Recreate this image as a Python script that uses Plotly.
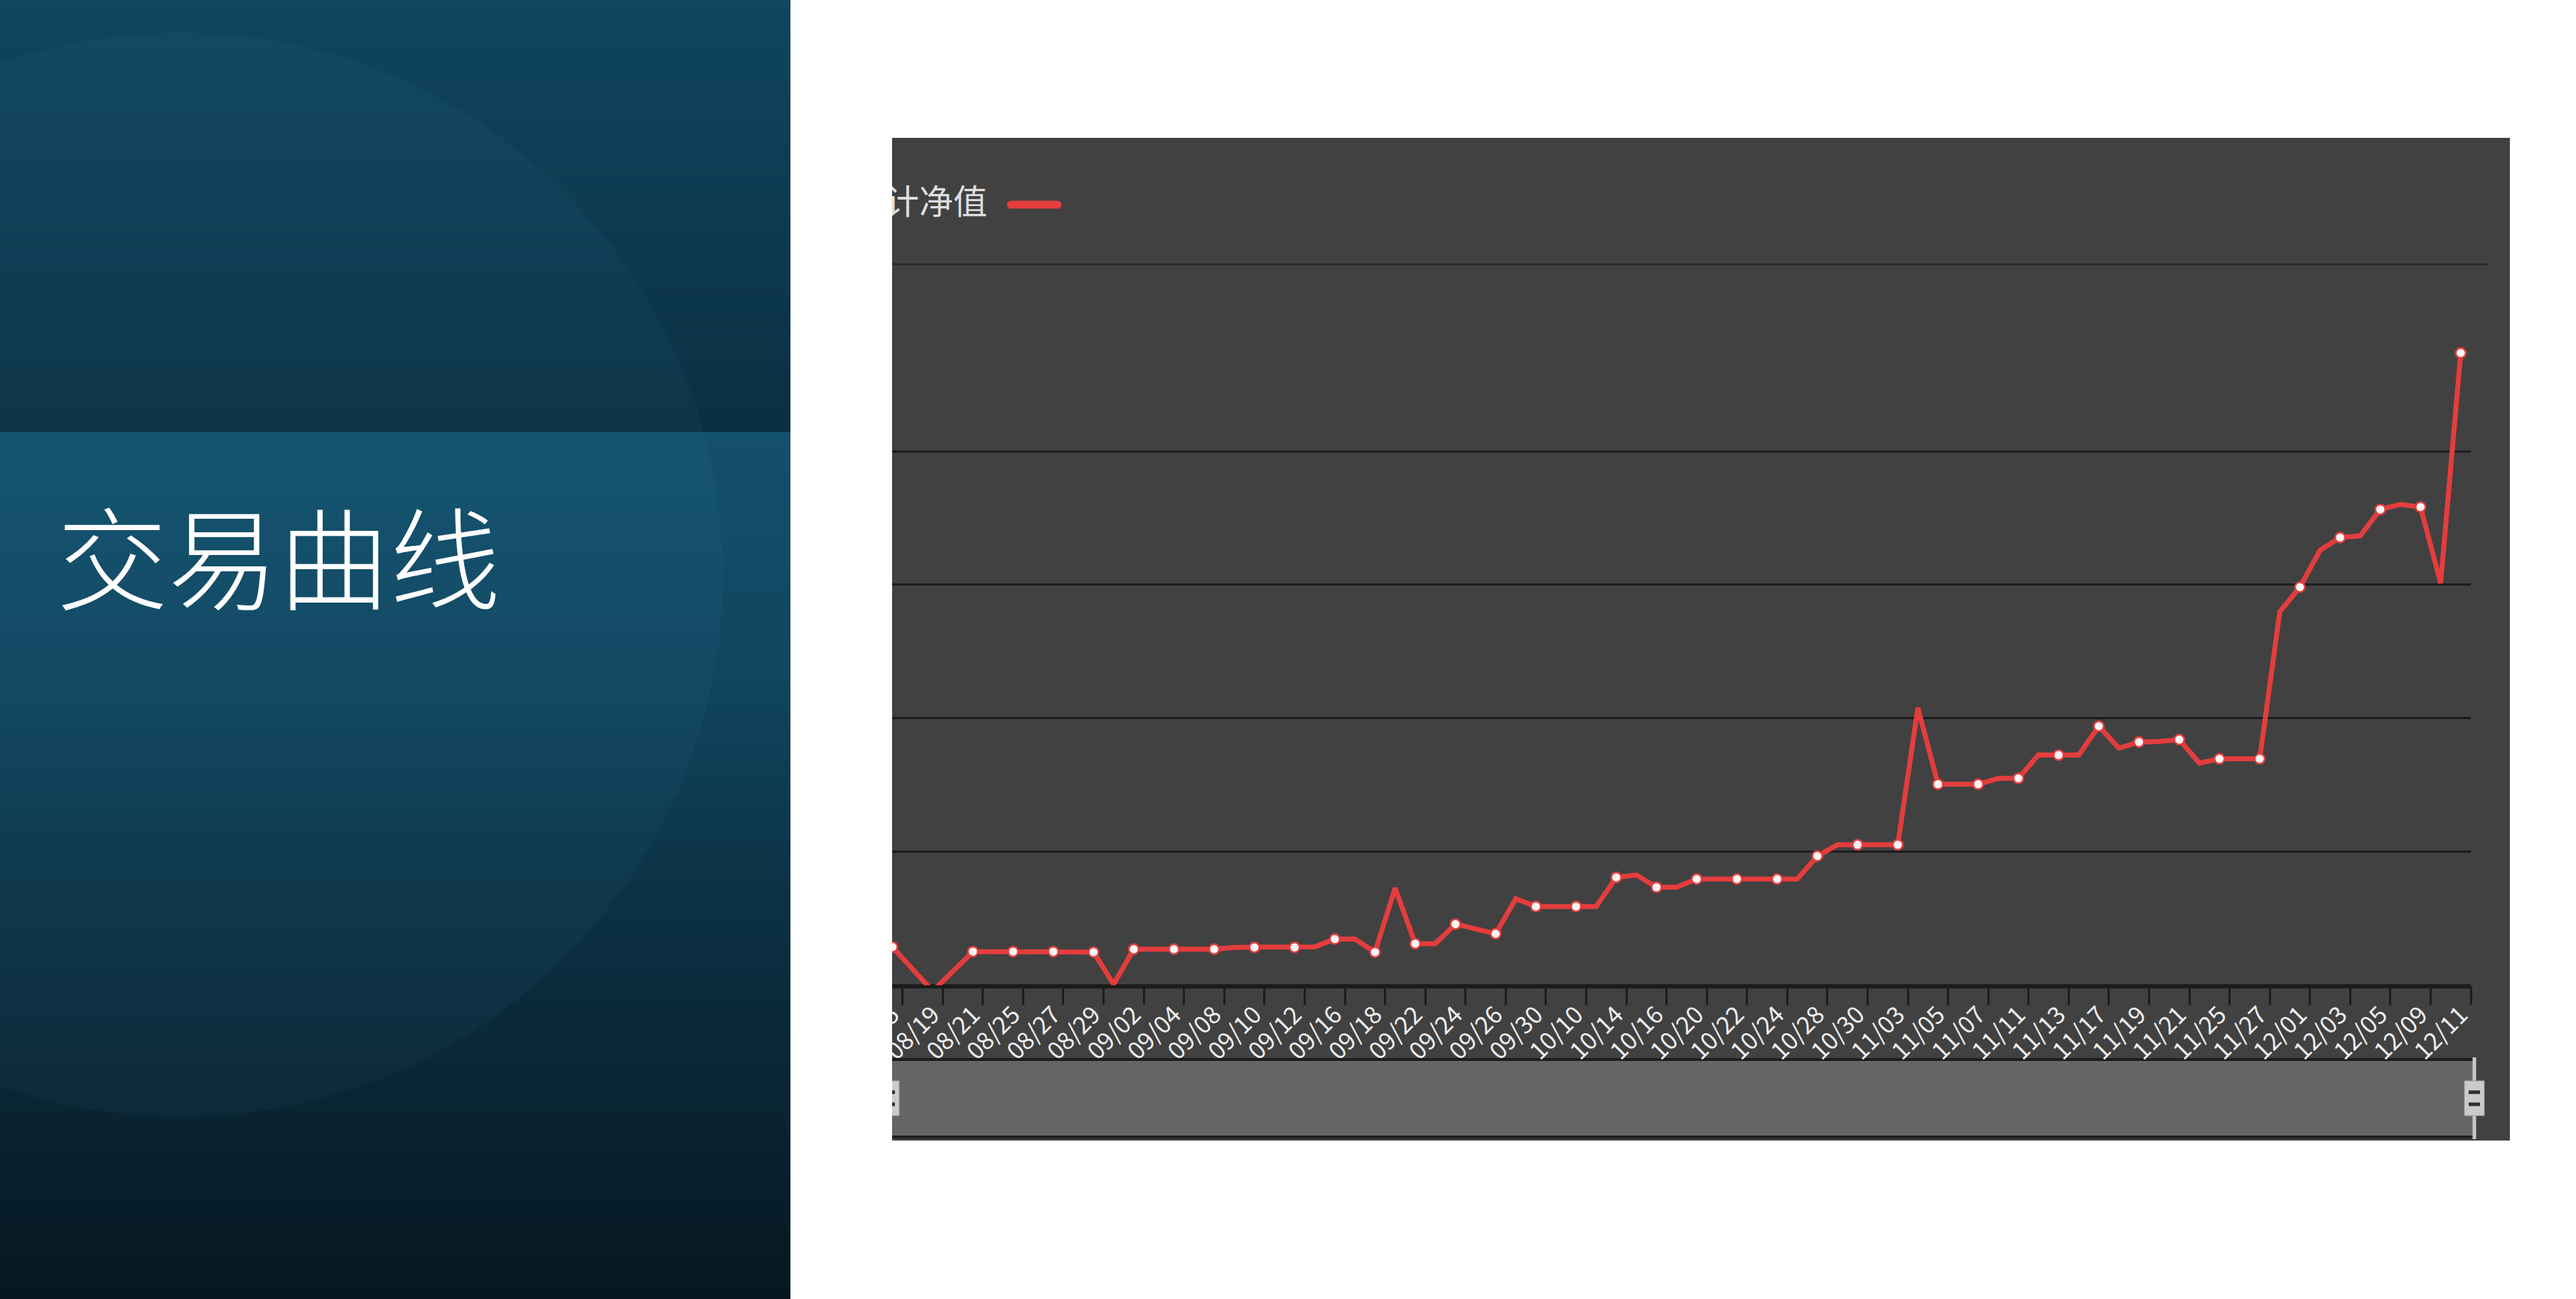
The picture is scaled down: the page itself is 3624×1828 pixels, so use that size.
import math
import plotly.graph_objects as go

# ---------------- data ----------------
dates = ["08/15", "08/18", "08/19", "08/20", "08/21", "08/22", "08/25", "08/26", "08/27", "08/28",
         "08/29", "09/01", "09/02", "09/03", "09/04", "09/05", "09/08", "09/09", "09/10", "09/11",
         "09/12", "09/15", "09/16", "09/17", "09/18", "09/19", "09/22", "09/23", "09/24", "09/25",
         "09/26", "09/29", "09/30", "10/09", "10/10", "10/13", "10/14", "10/15", "10/16", "10/17",
         "10/20", "10/21", "10/22", "10/23", "10/24", "10/27", "10/28", "10/29", "10/30", "10/31",
         "11/03", "11/04", "11/05", "11/06", "11/07", "11/10", "11/11", "11/12", "11/13", "11/14",
         "11/17", "11/18", "11/19", "11/20", "11/21", "11/24", "11/25", "11/26", "11/27", "11/28",
         "12/01", "12/02", "12/03", "12/04", "12/05", "12/08", "12/09", "12/10", "12/11"]

nav = [1.0143, 1.0060, 0.9978, 1.0052, 1.0126, 1.0126, 1.0126, 1.0126, 1.0126, 1.0126,
       1.0124, 1.0004, 1.0135, 1.0135, 1.0135, 1.0135, 1.0135, 1.0142, 1.0142, 1.0142,
       1.0142, 1.0144, 1.0173, 1.0173, 1.0124, 1.0364, 1.0156, 1.0156, 1.0229, 1.0212,
       1.0193, 1.0324, 1.0295, 1.0295, 1.0295, 1.0295, 1.0404, 1.0413, 1.0367, 1.0367,
       1.0398, 1.0398, 1.0398, 1.0398, 1.0398, 1.0398, 1.0484, 1.0526, 1.0526, 1.0526,
       1.0526, 1.1039, 1.0753, 1.0753, 1.0753, 1.0775, 1.0775, 1.0863, 1.0862, 1.0862,
       1.0970, 1.0888, 1.0911, 1.0913, 1.0920, 1.0832, 1.0848, 1.0848, 1.0848, 1.1399,
       1.1491, 1.1629, 1.1677, 1.1683, 1.1782, 1.1801, 1.1791, 1.1506, 1.2368]

y_grid = [1.05, 1.10, 1.15, 1.20, 1.25]
y_min, y_max = 1.00, 1.25

series_name = "累计净值"
slide_title = "交易曲线"

# ---------------- geometry / style ----------------
W, H = 3624, 1828
def px(x): return x / W
def py(y): return 1 - y / H

RED = "#e43d3d"
PANEL = "#414141"
GRID = "#1c1c1c"
FONT = "Noto Sans CJK SC"

x_idx = list(range(len(dates)))
lab_idx = x_idx[::2]
lab_txt = dates[::2]
tick_bounds = [i + 0.5 for i in lab_idx]

fig = go.Figure()

fig.add_trace(go.Scatter(x=x_idx, y=nav, mode="lines", line=dict(color=RED, width=7),
                         cliponaxis=False, hoverinfo="skip", showlegend=False))
fig.add_trace(go.Scatter(x=lab_idx, y=nav[::2], mode="markers",
                         marker=dict(size=14, color="#fff4f4", line=dict(color=RED, width=2.5)),
                         cliponaxis=False, showlegend=False, name=series_name))

# legend (text then icon, as in reference)
fig.add_trace(go.Scatter(x=[1389], y=[289], mode="text", text=[series_name],
                         textposition="middle left",
                         textfont=dict(size=48, color="#dedede", family=FONT),
                         xaxis="x3", yaxis="y3", cliponaxis=False, showlegend=False, hoverinfo="skip"))
fig.add_trace(go.Scatter(x=[1422, 1488], y=[288, 288], mode="lines+markers",
                         line=dict(color=RED, width=11), marker=dict(size=11, color=RED),
                         xaxis="x3", yaxis="y3", cliponaxis=False, showlegend=False, hoverinfo="skip"))

shapes = []

# left panel gradient
keys = [(0, (16, 70, 96)), (606, (11, 47, 67)), (609, (19, 80, 108)), (950, (16, 70, 95)),
        (1250, (12, 50, 70)), (1550, (9, 36, 50)), (1828, (6, 23, 33))]
def col_at(y):
    for (y0, c0), (y1, c1) in zip(keys[:-1], keys[1:]):
        if y0 <= y <= y1:
            t = (y - y0) / (y1 - y0) if y1 > y0 else 0
            return "rgb(%d,%d,%d)" % tuple(round(a + (b - a) * t) for a, b in zip(c0, c1))
    return "rgb(6,23,33)"
bounds = list(range(0, 608, 8)) + [608] + list(range(616, 1828, 8)) + [1828]
for a, b in zip(bounds[:-1], bounds[1:]):
    shapes.append(dict(type="rect", xref="paper", yref="paper", x0=0, x1=px(1112),
                       y0=py(min(b + 0.6, H)), y1=py(a), fillcolor=col_at((a + b) / 2),
                       line=dict(width=0), layer="below"))

# large faint circle, clipped at the left page edge
cx, cy, r = 254, 809, 763
t0 = math.acos(-cx / r)
n = 120
pts = []
for k in range(n + 1):
    t = -t0 + 2 * t0 * k / n
    pts.append((cx + r * math.cos(t), cy + r * math.sin(t)))
path = "M 0,%.5f " % py(cy - r * math.sin(t0))
path += " ".join("L %.5f,%.5f" % (px(max(x, 0)), py(y)) for x, y in pts)
path += " Z"
shapes.append(dict(type="path", xref="paper", yref="paper", path=path,
                   fillcolor="rgba(70,150,190,0.06)", line=dict(width=0), layer="below"))

# dark chart panel
shapes.append(dict(type="rect", xref="paper", yref="paper", x0=px(1255), x1=px(3531),
                   y0=py(1605), y1=py(194), fillcolor=PANEL, line=dict(width=0), layer="below"))
# separator under legend
shapes.append(dict(type="line", xref="paper", yref="paper", x0=px(1255), x1=px(3500),
                   y0=py(372), y1=py(372), line=dict(color="#2a2a2a", width=3), layer="below"))
# x axis line
shapes.append(dict(type="line", xref="paper", yref="paper", x0=px(1255), x1=px(3476),
                   y0=py(1388), y1=py(1388), line=dict(color="#1b1b1b", width=6), layer="below"))

# data-zoom slider
shapes.append(dict(type="rect", xref="paper", yref="paper", x0=px(1240), x1=px(3479),
                   y0=py(1600), y1=py(1491), fillcolor="#656565", line=dict(width=0), layer="below"))
for yy in (1491, 1600):
    shapes.append(dict(type="line", xref="paper", yref="paper", x0=px(1240), x1=px(3479),
                       y0=py(yy), y1=py(yy), line=dict(color="#1e1e1e", width=4), layer="below"))
for hx in (1251, 3481):
    shapes.append(dict(type="line", xref="paper", yref="paper", x0=px(hx), x1=px(hx),
                       y0=py(1603), y1=py(1488), line=dict(color="#c8c8c8", width=5), layer="above"))
    shapes.append(dict(type="rect", xref="paper", yref="paper", x0=px(hx - 14), x1=px(hx + 14),
                       y0=py(1570), y1=py(1521), fillcolor="#cbcbcb",
                       line=dict(color="#9a9a9a", width=1), layer="above"))
    for by in (1537, 1554):
        shapes.append(dict(type="rect", xref="paper", yref="paper", x0=px(hx - 8), x1=px(hx + 8),
                           y0=py(by + 2.5), y1=py(by - 2.5), fillcolor="#2e2e2e",
                           line=dict(width=0), layer="above"))

# white gap between the two panels (crops the chart at its left edge)
shapes.append(dict(type="rect", xref="paper", yref="paper", x0=px(1112), x1=px(1255),
                   y0=0, y1=1, fillcolor="white", line=dict(width=0), layer="above"))

fig.update_layout(
    width=W, height=H,
    margin=dict(l=0, r=0, t=0, b=0, pad=0, autoexpand=False),
    paper_bgcolor="white",
    plot_bgcolor="rgba(0,0,0,0)",
    showlegend=False,
    shapes=shapes,
    xaxis=dict(domain=[px(1255), px(3476)], range=[-0.02, 78.5], anchor="y", automargin=False,
               showgrid=False, zeroline=False, showline=False,
               tickmode="array", tickvals=lab_idx, ticktext=lab_txt, tickangle=-45,
               ticks="", ticklabelstandoff=14,
               tickfont=dict(size=34, color="#eeeeee", family=FONT),
               minor=dict(tickmode="array", tickvals=tick_bounds, ticks="outside",
                          ticklen=26, tickwidth=3, tickcolor="#1c1c1c", showgrid=False)),
    yaxis=dict(domain=[py(1386.5), py(446.4)], range=[y_min, y_max + 0.0002], anchor="x",
               automargin=False,
               tickmode="array", tickvals=y_grid, showticklabels=False, ticks="",
               showgrid=True, gridcolor=GRID, gridwidth=3, zeroline=False, showline=False),
    xaxis3=dict(domain=[0, 1], range=[0, W], anchor="y3", visible=False, automargin=False),
    yaxis3=dict(domain=[0, 1], range=[H, 0], anchor="x3", visible=False, automargin=False),
    annotations=[dict(text=slide_title, xref="paper", yref="paper", x=px(78), y=py(778),
                      xanchor="left", yanchor="middle", showarrow=False,
                      font=dict(size=156, color="white", family=FONT, weight=300))],
)

fig.write_html("out.html", config={"displayModeBar": False},
               post_script="document.body.style.margin='0';")
